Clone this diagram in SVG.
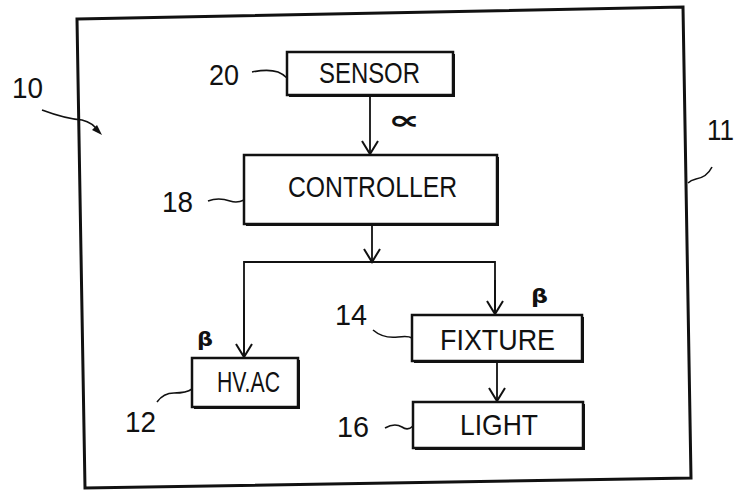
<svg xmlns="http://www.w3.org/2000/svg" width="736" height="491" viewBox="0 0 736 491">
  <style>
    .box { fill: #fff; stroke: #111; stroke-width: 2.5; }
    .shadow { fill: none; stroke: #111; stroke-width: 2; }
    .lbl { font-family: "Liberation Sans Narrow", "Liberation Sans", Arial, sans-serif; font-size: 30px; fill: #111; }
    .num { font-family: "Liberation Sans", Arial, sans-serif; font-size: 29px; fill: #111; }
    .greek { font-family: "DejaVu Sans", "Liberation Sans", sans-serif; fill: #111; font-weight: bold; }
    .wire { fill: none; stroke: #111; stroke-width: 1.8; }
    .lead { fill: none; stroke: #111; stroke-width: 1.6; }
  </style>
  <defs>
    <marker id="vhead" viewBox="0 0 20 20" refX="18" refY="10" markerWidth="20" markerHeight="20" markerUnits="userSpaceOnUse" orient="auto">
      <path d="M5,2 L18,10 L5,18" fill="none" stroke="#111" stroke-width="2"/>
    </marker>
  </defs>
  <rect width="736" height="491" fill="#fff"/>

  <!-- outer frame 11 -->
  <g id="frame11">
    <polygon points="77,19 683,7 691,478 85,488" fill="none" stroke="#111" stroke-width="3"/>
  </g>

  <!-- connectors -->
  <g id="connectors">
    <line class="wire" x1="370" y1="96" x2="370" y2="154" marker-end="url(#vhead)"/>
    <line class="wire" x1="372" y1="226" x2="372" y2="262" marker-end="url(#vhead)"/>
    <polyline class="wire" points="244,358 244,262 495,262 495,315"/>
    <line class="wire" x1="244" y1="300" x2="244" y2="357" marker-end="url(#vhead)"/>
    <line class="wire" x1="495" y1="280" x2="495" y2="314" marker-end="url(#vhead)"/>
    <line class="wire" x1="497" y1="363" x2="497" y2="401" marker-end="url(#vhead)"/>
  </g>

  <!-- system 10 label -->
  <g id="label10">
    <text class="num" x="12" y="98" textLength="31" lengthAdjust="spacingAndGlyphs">10</text>
    <path class="lead" d="M42,110 C58,116 70,119 82,120 C90,122 95,126 98,131"/>
    <polygon points="102,135 92,130 97,125" fill="#111"/>
  </g>

  <!-- frame label 11 -->
  <g id="label11">
    <text class="num" x="707" y="140" textLength="27" lengthAdjust="spacingAndGlyphs">11</text>
    <path class="lead" d="M712,167 C708,175 702,178 696,179 C692,180 690,181 688,183"/>
  </g>

  <g id="sensor">
    <rect class="box" x="287" y="52" width="166" height="43"/>
    <polyline class="shadow" points="454,54 454,96 289,96"/>
    <text class="lbl" x="319" y="83" textLength="101" lengthAdjust="spacingAndGlyphs" font-size="28">SENSOR</text>
    <text class="num" x="209" y="85" textLength="30" lengthAdjust="spacingAndGlyphs">20</text>
    <path class="lead" d="M252,72 C262,70 272,70 278,72 C283,74 285,76 287,78"/>
    <text class="greek" x="388" y="129" font-size="26" textLength="32" lengthAdjust="spacingAndGlyphs">∝</text>
  </g>

  <g id="controller">
    <rect class="box" x="244" y="155" width="253" height="69"/>
    <polyline class="shadow" points="498,157 498,225 246,225"/>
    <text class="lbl" x="288" y="197" textLength="169" lengthAdjust="spacingAndGlyphs" font-size="32">CONTROLLER</text>
    <text class="num" x="162" y="212" textLength="31" lengthAdjust="spacingAndGlyphs">18</text>
    <path class="lead" d="M208,201 C216,198 224,199 230,201 C236,203 240,202 244,200"/>
  </g>

  <g id="hvac">
    <rect class="box" x="192" y="358" width="106" height="49"/>
    <polyline class="shadow" points="299,360 299,408 194,408"/>
    <text class="lbl" x="217" y="392" textLength="63" lengthAdjust="spacingAndGlyphs" font-size="30">HV.AC</text>
    <text class="num" x="125" y="432" textLength="31" lengthAdjust="spacingAndGlyphs">12</text>
    <path class="lead" d="M157,402 C162,395 167,393 174,393 C182,393 188,392 192,389"/>
    <text class="greek" x="197" y="346" font-size="20" textLength="16" lengthAdjust="spacingAndGlyphs">β</text>
  </g>

  <g id="fixture">
    <rect class="box" x="412" y="315" width="170" height="46"/>
    <polyline class="shadow" points="583,317 583,362 414,362"/>
    <text class="lbl" x="440" y="350" textLength="115" lengthAdjust="spacingAndGlyphs" font-size="31">FIXTURE</text>
    <text class="num" x="335" y="325" textLength="32" lengthAdjust="spacingAndGlyphs">14</text>
    <path class="lead" d="M373,330 C380,336 390,338 398,337 C405,336 409,336 412,338"/>
    <text class="greek" x="531" y="303" font-size="20" textLength="17" lengthAdjust="spacingAndGlyphs">β</text>
  </g>

  <g id="light">
    <rect class="box" x="413" y="402" width="170" height="46"/>
    <polyline class="shadow" points="584,404 584,449 415,449"/>
    <text class="lbl" x="460" y="435" textLength="78" lengthAdjust="spacingAndGlyphs" font-size="31">LIGHT</text>
    <text class="num" x="337" y="437" textLength="32" lengthAdjust="spacingAndGlyphs">16</text>
    <path class="lead" d="M385,428 C392,424 397,424 402,427 C406,430 410,429 413,426"/>
  </g>
</svg>
